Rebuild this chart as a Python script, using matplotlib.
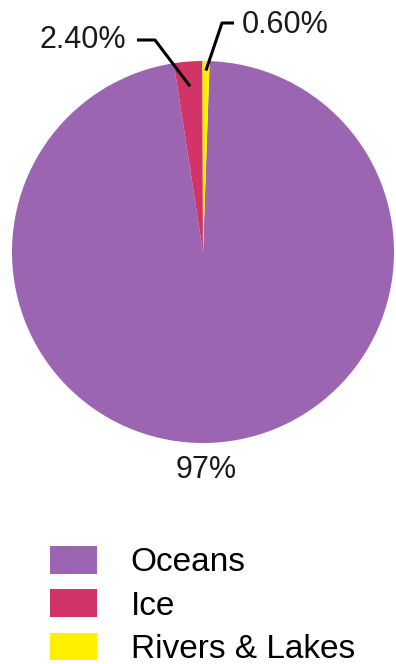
import numpy as np
import matplotlib
matplotlib.use("Agg")
import matplotlib.pyplot as plt
from matplotlib.patches import Patch

categories = ["Oceans", "Ice", "Rivers & Lakes"]
shares = [97.0, 2.4, 0.6]
labels = ["97%", "2.40%", "0.60%"]
colors = ["#9B65B2", "#D23468", "#FFF000"]

W, H = 396, 664
fig = plt.figure(figsize=(W / 100, H / 100), dpi=100)
plt.rcParams['font.family'] = ['Liberation Sans', 'DejaVu Sans']

cx, cy, R = 203, 252, 191
ax = fig.add_axes([(cx - R) / W, (H - cy - R) / H, 2 * R / W, 2 * R / H])
wedges, _ = ax.pie(shares, colors=colors, startangle=88, counterclock=False,
                   radius=1, wedgeprops=dict(linewidth=0))
ax.set_xlim(-1, 1)
ax.set_ylim(-1, 1)
ax.set_aspect('equal')
ax.set_axis_off()

def px2d(px, py):
    return (px - cx) / R, (cy - py) / R

fs = 22
tc = '#1a1a1a'
# Ice label
w = wedges[1]
mid = np.deg2rad((w.theta1 + w.theta2) / 2)
a = (0.87 * np.cos(mid), 0.87 * np.sin(mid))
e1 = px2d(155, 40); e2 = px2d(137, 40)
ax.plot([a[0], e1[0], e2[0]], [a[1], e1[1], e2[1]], color='black', lw=2.2,
        clip_on=False, solid_capstyle='butt')
tx, ty = px2d(126, 40)
ax.text(tx, ty, labels[1], ha='right', va='center', fontsize=fs, color=tc)

# Rivers label
w = wedges[2]
mid = np.deg2rad((w.theta1 + w.theta2) / 2)
a = (0.95 * np.cos(mid), 0.95 * np.sin(mid))
e1 = px2d(222, 23); e2 = px2d(234, 23)
ax.plot([a[0], e1[0], e2[0]], [a[1], e1[1], e2[1]], color='black', lw=2.2,
        clip_on=False, solid_capstyle='butt')
tx, ty = px2d(242, 25)
ax.text(tx, ty, labels[2], ha='left', va='center', fontsize=fs, color=tc)

# Oceans label
tx, ty = px2d(206, 470)
ax.text(tx, ty, labels[0], ha='center', va='center', fontsize=fs, color=tc)

lfs = 24
handles = [Patch(facecolor=c, edgecolor='none') for c in colors]
fig.legend(handles, categories, loc='upper left',
           bbox_to_anchor=(50 / W, 1 - 546 / H), frameon=False,
           fontsize=lfs, handlelength=1.42, handleheight=0.9, handletextpad=1.0,
           labelspacing=0.33, borderpad=0, borderaxespad=0)

fig.savefig("out.png", dpi=100)
